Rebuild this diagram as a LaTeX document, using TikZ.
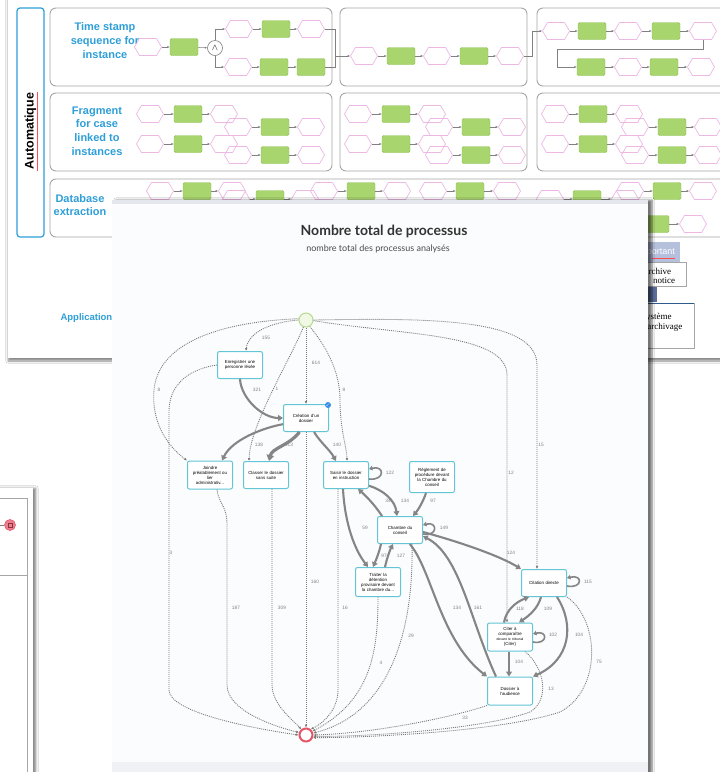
\documentclass[tikz,border=0pt]{standalone}
\usepackage{amssymb}
\usepackage{fontspec}
\setmainfont{Liberation Sans}
\newfontfamily\titlefont{Lato}
\newfontfamily\notefont{Liberation Serif}
\usetikzlibrary{arrows.meta, shapes.symbols, shadows.blur}

\definecolor{laneblue}{HTML}{2E9FD8}
\definecolor{hexpink}{HTML}{EDB8E4}
\definecolor{actgreen}{HTML}{A9D56E}
\definecolor{actline}{HTML}{8EC155}
\definecolor{lanegray}{HTML}{A6A6A6}
\definecolor{taskcyan}{HTML}{63C5D5}
\definecolor{flowgray}{HTML}{858585}
\definecolor{tracegray}{HTML}{7A7A7A}
\definecolor{stopred}{HTML}{E65468}
\definecolor{gogreen}{HTML}{B7DA8E}
\definecolor{gofill}{HTML}{F1F8E6}
\definecolor{cardfill}{HTML}{FBFCFD}
\definecolor{cardband}{HTML}{E4E8EE}
\definecolor{lavender}{HTML}{B5C0DC}
\definecolor{navyband}{HTML}{5B6D9C}
\definecolor{navyline}{HTML}{2F5B8C}
\definecolor{badgeblue}{HTML}{3A8EE6}

\pgfdeclarelayer{cards}
\pgfdeclarelayer{links}
\pgfsetlayers{cards,links,main}

\tikzset{
  hexa/.style={signal, signal to=east and west, signal pointer angle=120, draw=hexpink, line width=0.7pt, minimum width=27pt, minimum height=17pt, inner sep=0pt},
  act/.style={draw=actline, fill=actgreen, rounded corners=1.5pt, minimum width=28pt, minimum height=17pt, inner sep=0pt},
  seq/.style={draw=gray, line width=0.5pt, -{Latex[length=2.4pt,width=2.2pt]}},
  lane/.style={draw=lanegray, line width=0.9pt, rounded corners=6pt},
  lanetext/.style={text=laneblue, font=\bfseries\fontsize{11}{13.6}\selectfont, align=center},
  task/.style={draw=taskcyan, fill=white, line width=1pt, rounded corners=2pt, minimum width=45pt, minimum height=27pt, inner sep=0.5pt, text width=42pt, align=center, font=\fontsize{4.4}{5}\selectfont},
  flow/.style={draw=flowgray, line width=2.1pt, -{Triangle[length=4.8pt,width=5.8pt]}},
  loopflow/.style={flow, line width=1.6pt, -{Triangle[length=3.5pt,width=4.5pt]}},
  trace/.style={draw=tracegray, line width=0.85pt, dash pattern=on 1pt off 1pt, -{Latex[length=2.8pt,width=2.6pt]}},
  cnt/.style={text=gray, font=\fontsize{4.8}{5}\selectfont, inner sep=0.6pt}
}

\begin{document}
\begin{tikzpicture}[x=1pt, y=-1pt]
\useasboundingbox (0,0) rectangle (720,772);
\clip (0,0) rectangle (720,772);

\begin{pgfonlayer}{cards}
\fill[white] (0,0) rectangle (720,772);

\fill[white, blur shadow={shadow xshift=0pt, shadow yshift=-3pt, shadow blur steps=6, shadow opacity=45}] (8,-10) rectangle (740,358);
\draw[laneblue, line width=1.2pt, rounded corners=3pt] (17,8) rectangle (44,237);
\node[rotate=90, font=\bfseries\fontsize{12.5}{14}\selectfont] (auto) at (30.5,131) {Automatique};
\draw[red!70, line width=0.4pt] (37.5,92) -- (37.5,171);

\draw[lane] (50,8) rectangle (332,86);
\draw[lane] (340,8) rectangle (527,86);
\draw[lane] (537,8) rectangle (740,86);
\draw[lane] (50,93) rectangle (332,171);
\draw[lane] (340,93) rectangle (527,171);
\draw[lane] (537,93) rectangle (740,171);
\draw[lane] (50,179) rectangle (740,237);

\node[lanetext] (lane1) at (105,40.5) {Time stamp\\sequence for\\instance};
\node[lanetext] (lane2) at (97,131) {Fragment\\for case\\linked to\\instances};
\node[lanetext] (lane3) at (80,205) {Database\\extraction};

\node[hexa] (u1) at (148,47) {};
\node[act] (u2) at (184,47) {};
\node[circle, draw=gray, fill=white, line width=0.6pt, minimum size=15pt, inner sep=0pt, font=\small] (and) at (215,48) {$\wedge$};
\node[hexa] (u3) at (239,29) {};
\node[act] (u4) at (276,29) {};
\node[hexa] (u5) at (311,29) {};
\node[hexa] (u6) at (238,67) {};
\node[act] (u7) at (274,67) {};
\node[act] (u8) at (311,67) {};
\draw[seq] (u1) -- (u2);
\draw[seq] (u2) -- (and);
\draw[seq] (and) |- (u3);
\draw[seq] (and) |- (u6);
\foreach \a/\b in {3/4,4/5,6/7,7/8} \draw[seq] (u\a) -- (u\b);
\coordinate (join) at (335,56);
\draw[gray, line width=0.5pt] (u5.east) -| (join);
\draw[gray, line width=0.5pt] (u8.east) -| (join);

\foreach \x [count=\i] in {364,437,510} \node[hexa] (t\i) at (\x,56) {};
\foreach \x [count=\i] in {401,474} \node[act] (s\i) at (\x,56) {};
\draw[seq] (join) -- (t1);
\draw[seq] (t1) -- (s1);
\draw[seq] (s1) -- (t2);
\draw[seq] (t2) -- (s2);
\draw[seq] (s2) -- (t3);

\foreach \x [count=\i] in {556,628,703} \node[hexa] (v\i) at (\x,31) {};
\foreach \x [count=\i] in {592,666} \node[act] (w\i) at (\x,31) {};
\node[hexa] (v4) at (628,67) {};
\node[hexa] (v5) at (701,67) {};
\node[act] (w3) at (591,67) {};
\node[act] (w4) at (664,67) {};
\coordinate (bend1) at (532,56);
\draw[seq] (t3.east) -- (bend1) |- (v1);
\draw[seq] (v1) -- (w1);
\draw[seq] (w1) -- (v2);
\draw[seq] (v2) -- (w2);
\draw[seq] (w2) -- (v3);
\coordinate (bend2) at (557,49);
\draw[seq] (v3.south) |- (bend2) |- (w3.west);
\draw[seq] (w3) -- (v4);
\draw[seq] (v4) -- (w4);
\draw[seq] (w4) -- (v5);

\foreach \p/\q/\k in {0/0/a, 208/201/b, 405/397/c}{
  \node[hexa] (\k1) at (150+\p,114) {};
  \node[act] (\k2) at (188+\p,114) {};
  \node[hexa] (\k3) at (224+\p,114) {};
  \node[hexa] (\k4) at (238+\q,127) {};
  \node[act] (\k5) at (275+\q,127) {};
  \node[hexa] (\k6) at (311+\q,127) {};
  \node[hexa] (\k7) at (150+\p,144) {};
  \node[act] (\k8) at (188+\p,144) {};
  \node[hexa] (\k9) at (224+\p,144) {};
  \node[hexa] (\k10) at (238+\q,155) {};
  \node[act] (\k11) at (275+\q,155) {};
  \node[hexa] (\k12) at (311+\q,155) {};
  \foreach \u/\v in {1/2,2/3,4/5,5/6,7/8,8/9,10/11,11/12} \draw[seq] (\k\u) -- (\k\v);
}

\foreach \x/\y [count=\i] in {160/191, 232/191, 236/199, 305/199, 324/191, 397/191, 433/191, 507/191, 550/199, 625/199, 630/191, 703/191, 693/224} \node[hexa] (x\i) at (\x,\y) {};
\foreach \x/\y [count=\i] in {197/191, 270/199, 361/191, 470/191, 587/199, 667/191, 655/224} \node[act] (y\i) at (\x,\y) {};
\foreach \a/\b/\c in {1/1/2, 3/2/4, 5/3/6, 7/4/8, 9/5/10, 11/6/12} {
  \draw[seq] (x\a) -- (y\b);
  \draw[seq] (y\b) -- (x\c);
}
\draw[seq] (y7) -- (x13);

\fill[lavender] (630,242) rectangle (680,262);
\node[anchor=east, inner sep=0pt, text=white, font=\fontsize{9}{10}\selectfont] (imp) at (675,252) {Important};
\draw[red!70, line width=0.4pt] (652,258.5) -- (675,258.5);
\draw[lanegray, fill=white, line width=0.8pt] (610,262) rectangle (686,286);
\node[anchor=west, align=left, inner sep=0pt, font=\notefont\fontsize{9}{8.5}\selectfont] (notice) at (642,276) {Archive\\\hspace*{11pt}notice};
\fill[navyband] (630,287) rectangle (657,302);
\draw[lanegray, fill=white, line width=0.8pt] (610,303) rectangle (694,348);
\draw[navyline, line width=1.6pt] (610,303.5) -- (694,303.5);
\node[anchor=west, align=left, inner sep=0pt, font=\notefont\fontsize{9}{10}\selectfont] (sae) at (641,322) {Système\\d'archivage};

\node[anchor=west, text=laneblue, font=\bfseries\fontsize{9.5}{11}\selectfont] (app) at (57,318) {Application};

\fill[white, blur shadow={shadow xshift=3pt, shadow yshift=0pt, shadow blur steps=5, shadow opacity=45}] (-10,488) rectangle (33,790);
\draw[gray!70, line width=0.8pt] (-2,498) -- (27,498) -- (27,780);
\draw[gray!70, line width=0.8pt] (-2,575) -- (27,575);
\node[circle, fill=stopred!75, draw=stopred, line width=0.6pt, minimum size=11pt, inner sep=0pt] (fin) at (10,525) {};
\node[draw=stopred!60!black, minimum size=4pt, inner sep=0pt] (finbox) at (fin) {};
\coordinate (finin) at (-2,525);
\draw[gray, line width=0.5pt] (finin) -- (fin);

\fill[cardfill, blur shadow={shadow xshift=4pt, shadow yshift=0pt, shadow blur steps=6, shadow opacity=55}] (112,200) rectangle (648,790);
\fill[cardband] (112,200) rectangle (648,203.5);
\fill[cardband!60] (112,762) rectangle (648,772);

\node[font=\titlefont\bfseries\fontsize{14}{16}\selectfont, text=black!80] (title) at (384,231) {Nombre total de processus};
\node[font=\titlefont\fontsize{9}{10}\selectfont, text=black!70] (sub) at (378,249) {nombre total des processus analysés};
\end{pgfonlayer}

\node[circle, draw=gogreen, fill=gofill, line width=1pt, minimum size=14pt, inner sep=0pt] (go) at (306,320) {};
\node[circle, draw=stopred, fill=white, line width=2pt, minimum size=13pt, inner sep=0pt] (stop) at (306,735) {};

\node[task] (enreg) at (240,365) {Enregistrer une\\personne lésée};
\node[task] (creat) at (306,418) {Création d'un\\dossier};
\node[task, minimum height=28pt] (joind) at (210,475) {Joindre\\préalablement ou\\lier\\administrativ...};
\node[task] (class) at (266,475) {Classer le dossier\\sans suite};
\node[task] (saisi) at (346,475) {Saisir le dossier\\en instruction};
\node[task, minimum height=31pt] (regle) at (432,477) {Règlement de\\procédure devant\\la Chambre du\\conseil};
\node[task] (chamb) at (400,530) {Chambre du\\conseil};
\node[task, minimum height=29pt] (deten) at (378,582) {Traiter la\\détention\\provisoire devant\\la chambre du...};
\node[task] (citat) at (544,583) {Citation directe};
\node[task, minimum height=28pt] (citer) at (510,637) {Citer à\\comparaître\\{\fontsize{3.4}{4}\selectfont devant le tribunal}\\(Citer)};
\node[task, minimum height=28pt] (audie) at (510,691) {Dossier à\\l'audience};
\node[circle, fill=badgeblue, minimum size=6pt, inner sep=0pt, text=white, font=\fontsize{4}{4}\selectfont] (badge) at ([xshift=-1pt,yshift=-1pt]creat.north east) {$\checkmark$};

\begin{pgfonlayer}{links}
\draw[trace] (go.south) -- (creat.north);
\draw[trace] (go.west) .. controls (272,322) and (248,332) .. ([xshift=6pt]enreg.north);
\draw[trace] (go.170) .. controls (215,322) and (158,345) .. (154,390) .. controls (151,425) and (170,448) .. (joind.north west);
\draw[trace] (enreg.west) .. controls (195,368) and (170,380) .. (169,410) -- (169,690) .. controls (169,712) and (250,728) .. (stop.west);
\draw[trace] (go.250) .. controls (290,360) and (250,425) .. ([xshift=-17pt]class.north);
\draw[trace] (creat.south) -- (stop.north);
\draw[trace] ([xshift=7pt]joind.south) .. controls (219,505) and (227,505) .. (227,525) -- (227,685) .. controls (227,712) and (280,728) .. (stop.160);
\draw[trace] ([xshift=6pt]class.south) -- (272,685) .. controls (272,705) and (295,722) .. (stop.130);
\draw[trace] (go.-60) .. controls (325,345) and (340,370) .. (340,400) .. controls (340,430) and (347,448) .. ([xshift=1pt]saisi.north);
\draw[trace] ([xshift=-8pt]saisi.south) -- (338,690) .. controls (338,712) and (320,725) .. (stop.50);
\draw[trace] (deten.south) .. controls (378,650) and (372,700) .. (stop.30);
\draw[trace] ([xshift=12pt]chamb.south) .. controls (414,640) and (385,715) .. (stop.15);
\draw[trace] (audie.south west) .. controls (460,715) and (380,733) .. (stop.east);
\draw[trace] ([xshift=15pt]citer.south) .. controls (545,668) and (550,700) .. (530,712) .. controls (480,730) and (360,737) .. (stop.-10);
\draw[trace] (citat.south east) .. controls (600,620) and (602,690) .. (560,712) .. controls (500,732) and (360,738) .. (stop.-20);
\draw[trace] (go.-5) .. controls (400,335) and (507,333) .. (507,375) -- ([xshift=-3pt]citer.north);
\draw[trace] (go.east) .. controls (430,318) and (537,318) .. (537,365) -- ([xshift=-7pt]citat.north);
\end{pgfonlayer}

\draw[flow] (enreg.south) .. controls (241,398) and (262,418) .. (creat.west);
\draw[flow] (creat.195) .. controls (262,428) and (232,440) .. ([xshift=12pt]joind.north);
\draw[flow, line width=3.2pt, -{Triangle[length=6pt,width=7.5pt]}] (creat.245) .. controls (290,445) and (272,448) .. ([xshift=3pt]class.north);
\draw[flow] (creat.300) .. controls (320,442) and (330,450) .. ([xshift=-10pt]saisi.north);
\draw[loopflow] ([yshift=-4pt]saisi.east) .. controls +(16pt,-2pt) and +(16pt,4pt) .. ([yshift=6pt]saisi.east);
\draw[flow] (saisi.-25) .. controls (383,490) and (395,500) .. ([xshift=-3pt]chamb.north);
\draw[flow] ([xshift=-18pt]chamb.north) .. controls (375,505) and (365,495) .. ([xshift=12pt]saisi.south);
\draw[flow] ([xshift=-6pt]regle.south) .. controls (423,502) and (418,510) .. ([xshift=13pt]chamb.north);
\draw[loopflow] ([yshift=-4pt]chamb.east) .. controls +(15pt,-3pt) and +(15pt,4pt) .. ([yshift=5pt]chamb.east);
\draw[flow] ([xshift=-3pt]saisi.south) .. controls (345,525) and (355,550) .. ([xshift=-10pt]deten.north);
\draw[flow] ([xshift=-19pt]chamb.south) .. controls (379,553) and (376,560) .. ([xshift=-5pt]deten.north);
\draw[flow] ([xshift=7pt]deten.north) .. controls (387,558) and (390,550) .. ([xshift=-7pt]chamb.south);
\draw[flow] (chamb.-5) .. controls (460,542) and (500,556) .. (citat.north west);
\draw[flow] (chamb.-55) .. controls (432,570) and (440,640) .. (audie.north west);
\draw[flow] ([xshift=-14pt]audie.north) .. controls (470,620) and (460,555) .. (chamb.-15);
\draw[loopflow] ([yshift=-3pt]citat.east) .. controls +(16pt,-3pt) and +(16pt,4pt) .. ([yshift=5pt]citat.east);
\draw[flow] ([xshift=-6pt]citer.north) .. controls (506,610) and (516,602) .. ([xshift=-15pt]citat.south);
\draw[flow] ([xshift=-3pt]citat.south) .. controls (538,608) and (530,615) .. ([xshift=9pt]citer.north);
\draw[loopflow] ([yshift=-5pt]citer.east) .. controls +(15pt,-3pt) and +(15pt,4pt) .. ([yshift=3pt]citer.east);
\draw[flow] ([xshift=-1pt]citer.south) -- ([xshift=-1pt]audie.north);
\draw[flow] ([xshift=13pt]citat.south) .. controls (575,625) and (570,660) .. (audie.north east);

\node[cnt] (l1) at (257,390) {321};
\node[cnt] (l2) at (259,445) {138};
\node[cnt] (l3) at (289,445) {313};
\node[cnt] (l4) at (337,445) {140};
\node[cnt] (l5) at (390,473) {122};
\node[cnt] (l6) at (388,501) {34};
\node[cnt] (l7) at (405,501) {134};
\node[cnt] (l8) at (433,501) {97};
\node[cnt] (l9) at (444,528) {149};
\node[cnt] (l10) at (365,528) {59};
\node[cnt] (l11) at (384,556) {97};
\node[cnt] (l12) at (401,556) {127};
\node[cnt] (l13) at (511,553) {124};
\node[cnt] (l14) at (457,608) {134};
\node[cnt] (l15) at (478,608) {161};
\node[cnt] (l16) at (588,582) {115};
\node[cnt] (l17) at (520,609) {118};
\node[cnt] (l18) at (548,609) {109};
\node[cnt] (l19) at (553,635) {102};
\node[cnt] (l20) at (519,662) {104};
\node[cnt] (l21) at (579,635) {104};
\node[cnt] (l22) at (266,338) {155};
\node[cnt] (l23) at (159,390) {8};
\node[cnt] (l24) at (171,553) {3};
\node[cnt] (l25) at (277,389) {1};
\node[cnt] (l26) at (316,363) {614};
\node[cnt] (l27) at (315,582) {160};
\node[cnt] (l28) at (236,608) {187};
\node[cnt] (l29) at (282,608) {309};
\node[cnt] (l30) at (344,390) {8};
\node[cnt] (l31) at (345,608) {16};
\node[cnt] (l32) at (381,663) {4};
\node[cnt] (l33) at (411,636) {29};
\node[cnt] (l34) at (465,718) {33};
\node[cnt] (l35) at (551,689) {13};
\node[cnt] (l36) at (599,662) {75};
\node[cnt] (l37) at (511,473) {12};
\node[cnt] (l38) at (541,445) {15};
\end{tikzpicture}
\end{document}
